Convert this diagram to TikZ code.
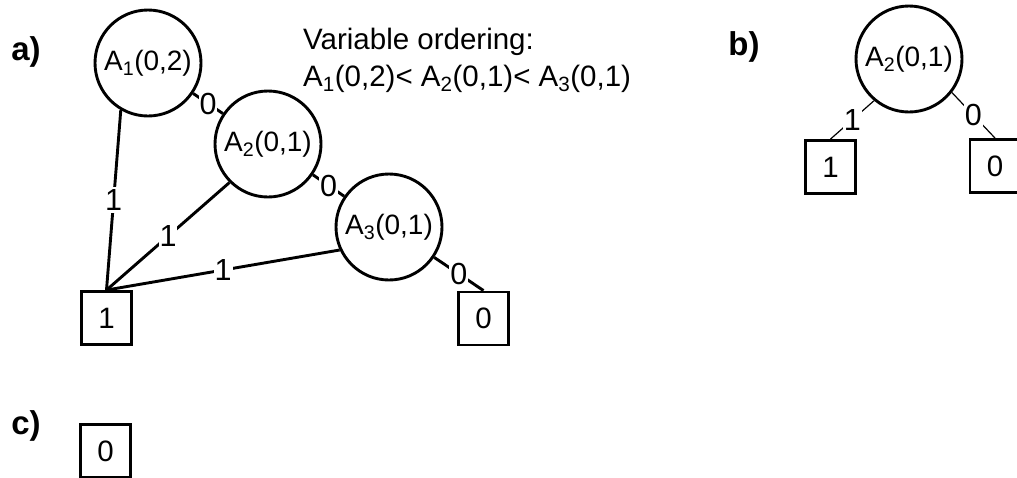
\documentclass[tikz,border=0pt]{standalone}
\usepackage{fontspec}
\setmainfont{Liberation Sans}
\begin{document}
\begin{tikzpicture}[x=1pt,y=-1pt,
  txt/.style={font=\fontsize{28}{30}\selectfont},
  big/.style={font=\fontsize{30.5}{32}\selectfont},
  circ/.style={circle,draw,line width=2.9pt,minimum size=106pt,inner sep=0pt,txt},
  leaf/.style={rectangle,draw,line width=2.9pt,minimum width=50pt,minimum height=53pt,inner sep=0pt,font=\fontsize{29.5}{31}\selectfont},
  edge/.style={line width=2.9pt},
  thinedge/.style={line width=1.2pt},
  lab/.style={fill=white,inner xsep=1pt,inner ysep=2.5pt,big},
  tag/.style={font=\fontsize{33}{35}\selectfont\bfseries}]
\useasboundingbox (0,0) rectangle (1017,477);

% a)
\node[tag] (ta) at (26,52) {a)};
\node[circ] (A1) at (148,63) {A\textsubscript{1}(0,2)};
\node[circ] (A2) at (268,144) {A\textsubscript{2}(0,1)};
\node[circ] (A3) at (389,227) {A\textsubscript{3}(0,1)};
\node[leaf] (L1) at (106.5,318) {1};
\node[leaf] (L0) at (483.5,318.5) {0};
\draw[edge] (A1) -- node[lab]{0} (A2);
\draw[edge] (A2) -- node[lab]{0} (A3);
\draw[edge] (A3) -- node[lab]{0} (L0.north);
\draw[edge] (A1.240) -- node[lab]{1} (L1.north);
\draw[edge] (A2.225) -- node[lab]{1} (L1.north);
\draw[edge] (A3.205) -- node[lab]{1} (L1.north);

\node[anchor=base west,inner sep=0pt,font=\fontsize{29.5}{31}\selectfont] (ord1) at (303,49) {Variable ordering:};
\node[anchor=base west,inner sep=0pt,font=\fontsize{29.5}{31}\selectfont] (ord2) at (303,86) {A\textsubscript{1}(0,2)< A\textsubscript{2}(0,1)< A\textsubscript{3}(0,1)};

% b)
\node[tag] (tb) at (744,47) {b)};
\node[circ] (B) at (909,59) {A\textsubscript{2}(0,1)};
\node[leaf] (BL1) at (830.5,167) {1};
\node[leaf] (BL0) at (995,166) {0};
\draw[thinedge] (B.230) -- node[lab]{1} (BL1.north);
\draw[thinedge] (B.-38) -- node[lab]{0} (BL0.north);

% c)
\node[tag] (tc) at (26,426) {c)};
\node[leaf] (C0) at (105.5,451) {0};
\end{tikzpicture}
\end{document}
